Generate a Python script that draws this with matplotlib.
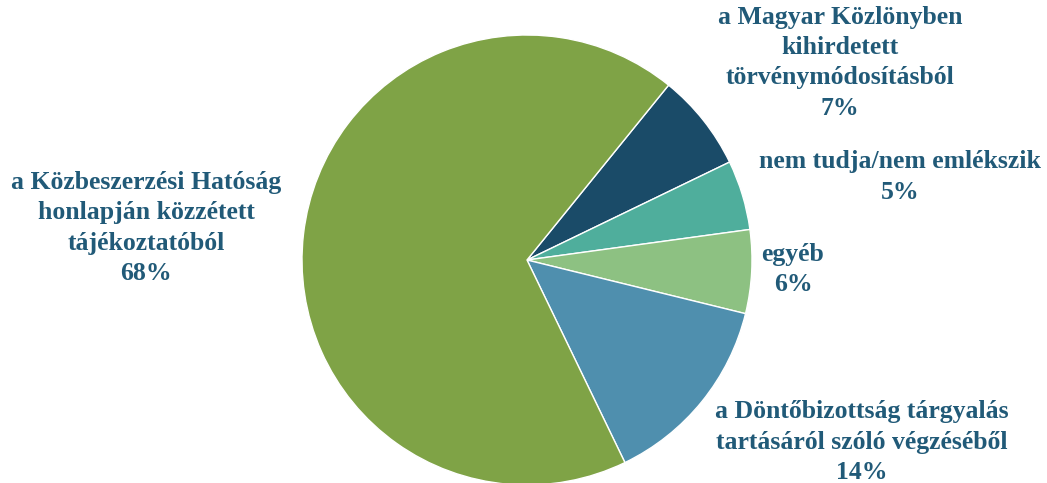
import matplotlib
matplotlib.use('Agg')
import matplotlib.pyplot as plt

# slices in clockwise order, starting at the top-right boundary
categories = [
    'a Magyar Közlönyben\nkihirdetett\ntörvénymódosításból',
    'nem tudja/nem emlékszik',
    'egyéb',
    'a Döntőbizottság tárgyalás\ntartásáról szóló végzéséből',
    'a Közbeszerzési Hatóság\nhonlapján közzétett\ntájékoztatóból',
]
values = [7, 5, 6, 14, 68]
colors = ['#1A4B68', '#4FAE9C', '#8DC182', '#4F8FAE', '#7FA346']

# label centres in pie-radius units (centre of pie = 0,0)
label_pos = [(1.39, 0.876), (1.658, 0.369), (1.182, -0.044), (1.489, -0.809), (-1.693, 0.142)]

W, H = 1047, 483
cx, cy, r = 527, 260, 225

fig = plt.figure(figsize=(W / 100, H / 100), dpi=100)
ax = fig.add_axes([0, 0, 1, 1])
ax.pie(values, colors=colors, startangle=51, counterclock=False,
       wedgeprops=dict(edgecolor='white', linewidth=1))
ax.set_xlim(-cx / r, (W - cx) / r)
ax.set_ylim((cy - H) / r, cy / r)
ax.set_aspect('equal')
ax.axis('off')

for cat, v, (x, y) in zip(categories, values, label_pos):
    ax.text(x, y, f'{cat}\n{v}%', ha='center', va='center', color='#215A78',
            fontsize=18.5, fontweight='bold', family='Liberation Serif',
            linespacing=1.4)

fig.savefig('out.png', dpi=100)
